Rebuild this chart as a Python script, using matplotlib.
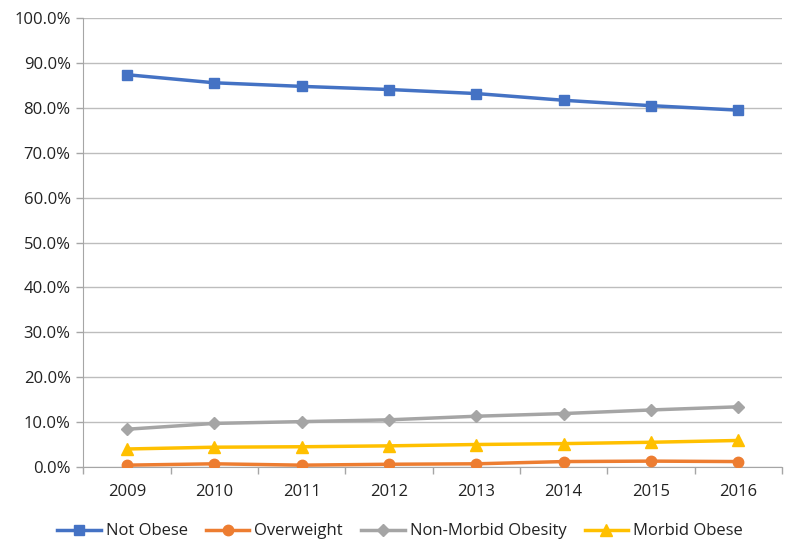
import matplotlib
matplotlib.use("Agg")
import matplotlib.pyplot as plt
import numpy as np
from matplotlib.ticker import FuncFormatter, FixedLocator

years = ["2009", "2010", "2011", "2012", "2013", "2014", "2015", "2016"]
not_obese = [87.4, 85.6, 84.8, 84.1, 83.2, 81.7, 80.5, 79.5]
overweight = [0.4, 0.7, 0.4, 0.6, 0.7, 1.2, 1.3, 1.2]
non_morbid = [8.4, 9.7, 10.1, 10.5, 11.3, 11.9, 12.7, 13.4]
morbid = [4.0, 4.4, 4.5, 4.7, 5.0, 5.2, 5.5, 5.9]
yticks = [0, 10, 20, 30, 40, 50, 60, 70, 80, 90, 100]

plt.rcParams['font.family'] = ['Open Sans', 'DejaVu Sans']

fig = plt.figure(figsize=(8, 5.5), dpi=100)
ax = fig.add_axes([0.104, 0.151, 0.8735, 0.816])

x = np.arange(len(years))
series = [
    ("Not Obese", not_obese, "#4472C4", "s", 7.5),
    ("Overweight", overweight, "#ED7D31", "o", 7.5),
    ("Non-Morbid Obesity", non_morbid, "#A5A5A5", "D", 6),
    ("Morbid Obese", morbid, "#FFC000", "^", 8),
]
for name, vals, col, mk, ms in series:
    ax.plot(x, vals, color=col, marker=mk, markersize=ms, linewidth=2.5,
            label=name, zorder=3)

ax.set_xlim(-0.5, len(years) - 0.5)
ax.set_ylim(0, 100)
ax.set_yticks(yticks)
ax.yaxis.set_major_formatter(FuncFormatter(lambda v, p: f"{v:.1f}%"))
ax.set_xticks(x)
ax.set_xticklabels(years)
ax.xaxis.set_minor_locator(FixedLocator(np.arange(-0.5, len(years), 1.0)))
ax.tick_params(axis='x', which='major', length=0, pad=12, labelsize=12, colors='#222222')
ax.tick_params(axis='x', which='minor', length=5, color='#A6A6A6', width=1)
ax.tick_params(axis='y', which='major', length=5, color='#A6A6A6', width=1, labelsize=12, pad=4,
               labelcolor='#222222')

ax.grid(axis='y', color='#BDBDBD', linewidth=1)
ax.set_axisbelow(True)
for s in ['top', 'right']:
    ax.spines[s].set_visible(False)
ax.spines['left'].set_color('#A6A6A6')
ax.spines['bottom'].set_color('#A6A6A6')

leg = fig.legend(loc='lower center', bbox_to_anchor=(0.5, -0.008), ncol=4, frameon=False,
                 fontsize=12, handlelength=2.6, columnspacing=1.1, handletextpad=0.3)
for t in leg.get_texts():
    t.set_color('#222222')

fig.savefig("out.png", dpi=100, facecolor='white')
